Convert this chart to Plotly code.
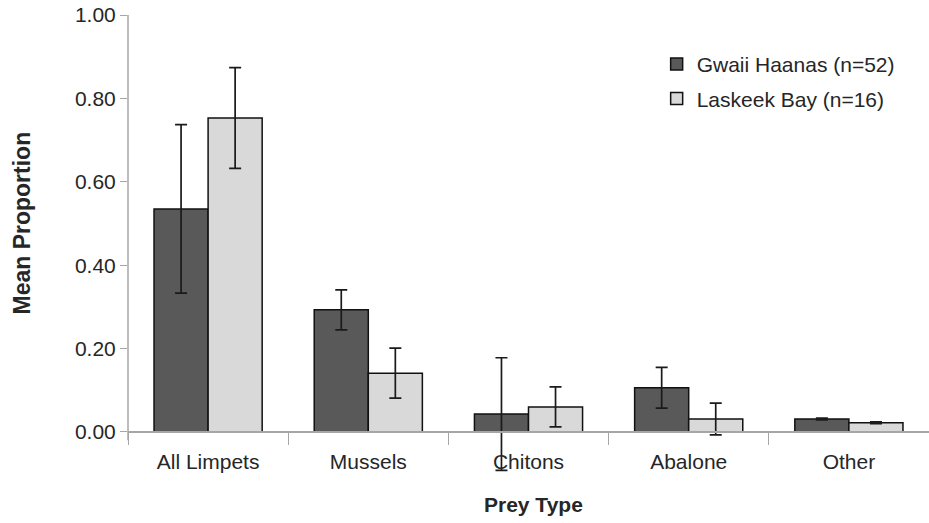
import plotly.graph_objects as go

categories = ["All Limpets", "Mussels", "Chitons", "Abalone", "Other"]
gwaii_mean = [0.535, 0.293, 0.043, 0.106, 0.031]
gwaii_err = [0.202, 0.048, 0.135, 0.049, 0.002]
laskeek_mean = [0.753, 0.141, 0.060, 0.031, 0.022]
laskeek_err = [0.121, 0.060, 0.048, 0.038, 0.002]
series_names = ["Gwaii Haanas (n=52)", "Laskeek Bay (n=16)"]
ytick_vals = [0.0, 0.2, 0.4, 0.6, 0.8, 1.0]
ytick_text = ["0.00", "0.20", "0.40", "0.60", "0.80", "1.00"]

FONT = "Liberation Sans, Arial, sans-serif"
TXT = "#262626"
AXC = "#a6a6a6"
YMIN, YMAX = -0.12, 1.0

fig = go.Figure()
fig.add_trace(go.Bar(
    x=categories, y=gwaii_mean, name=series_names[0], legendgroup="a",
    marker=dict(color="#595959", line=dict(color="#111111", width=1.5)),
    error_y=dict(type="data", array=gwaii_err, visible=True,
                 color="#1a1a1a", thickness=1.7, width=6),
))
fig.add_trace(go.Bar(
    x=categories, y=laskeek_mean, name=series_names[1], legendgroup="b",
    marker=dict(color="#d9d9d9", line=dict(color="#111111", width=1.5)),
    error_y=dict(type="data", array=laskeek_err, visible=True,
                 color="#1a1a1a", thickness=1.7, width=6),
))

fig.update_layout(
    width=929, height=523,
    margin=dict(l=128, r=0, t=15, b=41, autoexpand=False),
    paper_bgcolor="white", plot_bgcolor="white",
    barmode="group", bargap=0.325, bargroupgap=0.0,
    font=dict(family=FONT, size=21, color=TXT),
    legend=dict(x=0.66, y=0.938, xanchor="left", yanchor="top",
                font=dict(family=FONT, size=21, color=TXT),
                traceorder="grouped", tracegroupgap=4,
                bgcolor="rgba(0,0,0,0)"),
    xaxis=dict(
        anchor="free", position=(0 - YMIN) / (YMAX - YMIN),
        showline=True, linecolor=AXC, linewidth=1.5,
        ticks="outside", tickson="boundaries", ticklen=12, tickcolor=AXC,
        ticklabelstandoff=11,
        tickfont=dict(family=FONT, size=21, color=TXT),
        showgrid=False, zeroline=False, automargin=False,
    ),
    yaxis=dict(
        range=[YMIN, YMAX], tickvals=ytick_vals, ticktext=ytick_text,
        showline=False, ticks="outside", ticklen=7, tickcolor=AXC,
        ticklabeloverflow="allow",
        tickfont=dict(family=FONT, size=21, color=TXT),
        showgrid=False, zeroline=False, automargin=False,
    ),
    shapes=[dict(type="line", xref="paper", yref="y", x0=0, x1=0,
                 y0=-0.02, y1=YMAX, line=dict(color=AXC, width=1.5))],
    annotations=[
        dict(text="<b>Mean Proportion</b>", xref="paper", yref="y",
             x=-0.1323, y=0.5, textangle=-90, showarrow=False,
             font=dict(family=FONT, size=23, color=TXT),
             xanchor="center", yanchor="middle"),
        dict(text="<b>Prey Type</b>", xref="paper", yref="paper",
             x=0.506, y=-0.049, showarrow=False,
             font=dict(family=FONT, size=21, color=TXT),
             xanchor="center", yanchor="middle"),
    ],
)

fig.write_html("out.html",
               config={"displayModeBar": False},
               post_script="document.body.style.margin='0';document.body.style.overflow='hidden';")
